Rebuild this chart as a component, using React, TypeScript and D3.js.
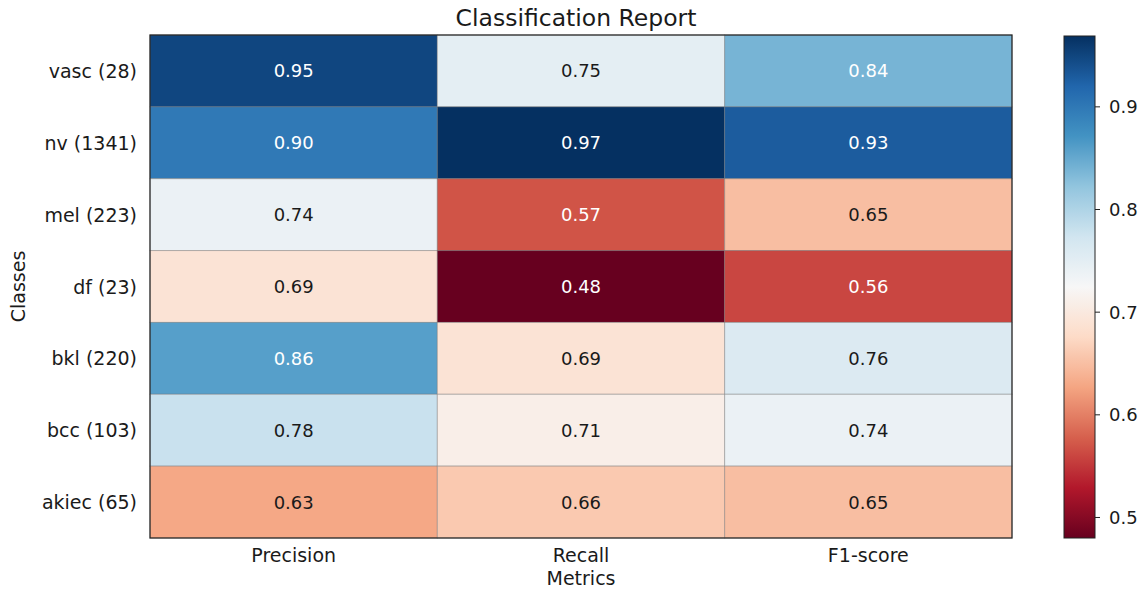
import React from "react";
import * as d3 from "d3";

const classes = ["vasc (28)", "nv (1341)", "mel (223)", "df (23)", "bkl (220)", "bcc (103)", "akiec (65)"];
const metrics = ["Precision", "Recall", "F1-score"];
const precision = [0.95, 0.90, 0.74, 0.69, 0.86, 0.78, 0.63];
const recall = [0.75, 0.97, 0.57, 0.48, 0.69, 0.71, 0.66];
const f1score = [0.84, 0.93, 0.65, 0.56, 0.76, 0.74, 0.65];
const colorbarTicks = [0.5, 0.6, 0.7, 0.8, 0.9];

const rdbu = ["#67001f", "#b2182b", "#d6604d", "#f4a582", "#fddbc7", "#f7f7f7", "#d1e5f0", "#92c5de", "#4393c3", "#2166ac", "#053061"];

const W = 1143, H = 590;
const M = { left: 150, top: 35, right: 1012, bottom: 538 };
const CB = { x: 1064, w: 31 };
const FONT = "'DejaVu Sans', Verdana, sans-serif";

function luminance(c: string) {
  const rgb = d3.rgb(c);
  const f = (v: number) => {
    const s = v / 255;
    return s <= 0.03928 ? s / 12.92 : Math.pow((s + 0.055) / 1.055, 2.4);
  };
  return 0.2126 * f(rgb.r) + 0.7152 * f(rgb.g) + 0.0722 * f(rgb.b);
}

export default function App() {
  const columns = [precision, recall, f1score];
  const all = columns.flat();
  const vmin = d3.min(all)!;
  const vmax = d3.max(all)!;

  const cmap = d3
    .scaleLinear<string>()
    .domain(rdbu.map((_, i) => i / (rdbu.length - 1)))
    .range(rdbu)
    .interpolate(d3.interpolateRgb)
    .clamp(true);
  const norm = d3.scaleLinear().domain([vmin, vmax]).range([0, 1]);
  const color = (v: number) => cmap(norm(v));

  const x = d3.scaleBand<string>().domain(metrics).range([M.left, M.right]);
  const y = d3.scaleBand<string>().domain(classes).range([M.top, M.bottom]);
  const cy = d3.scaleLinear().domain([vmin, vmax]).range([M.bottom, M.top]);

  const stops = d3.range(0, 1.0001, 0.02);

  return (
    <svg width={W} height={H} style={{ position: "absolute", left: 0, top: 0, background: "#fff" }} fontFamily={FONT}>
      <defs>
        <linearGradient id="cbgrad" x1="0" y1="1" x2="0" y2="0">
          {stops.map((t) => (
            <stop key={t} offset={t} stopColor={cmap(t)} />
          ))}
        </linearGradient>
      </defs>
      <text x={576} y={26} textAnchor="middle" fontSize={23.5} fill="#1a1a1a">
        Classification Report
      </text>
      {columns.map((col, ci) =>
        col.map((v, ri) => {
          const c = color(v);
          const tc = luminance(c) < 0.42 ? "#ffffff" : "#1a1a1a";
          const cx = x(metrics[ci])!;
          const ry = y(classes[ri])!;
          return (
            <g key={`${ci}-${ri}`}>
              <rect x={cx} y={ry} width={x.bandwidth()} height={y.bandwidth()} fill={c} stroke="rgba(120,120,120,0.45)" strokeWidth={1} />
              <text x={cx + x.bandwidth() / 2} y={ry + y.bandwidth() / 2} textAnchor="middle" dominantBaseline="central" fontSize={18} fill={tc}>
                {v.toFixed(2)}
              </text>
            </g>
          );
        })
      )}
      <rect x={M.left} y={M.top} width={M.right - M.left} height={M.bottom - M.top} fill="none" stroke="#222" strokeWidth={1.2} />
      {classes.map((c) => (
        <text key={c} x={M.left - 13} y={y(c)! + y.bandwidth() / 2} textAnchor="end" dominantBaseline="central" fontSize={19} fill="#1a1a1a">
          {c}
        </text>
      ))}
      {metrics.map((m) => (
        <text key={m} x={x(m)! + x.bandwidth() / 2} y={562} textAnchor="middle" fontSize={19} fill="#1a1a1a">
          {m}
        </text>
      ))}
      <text x={(M.left + M.right) / 2} y={585} textAnchor="middle" fontSize={19} fill="#1a1a1a">
        Metrics
      </text>
      <text transform={`translate(25,${(M.top + M.bottom) / 2}) rotate(-90)`} textAnchor="middle" fontSize={19} fill="#1a1a1a">
        Classes
      </text>
      <rect x={CB.x} y={M.top + 1} width={CB.w} height={M.bottom - M.top - 1} fill="url(#cbgrad)" stroke="#222" strokeWidth={1} />
      {colorbarTicks.map((t) => (
        <g key={t}>
          <line x1={CB.x + CB.w} x2={CB.x + CB.w + 5} y1={cy(t)} y2={cy(t)} stroke="#222" strokeWidth={1} />
          <text x={CB.x + CB.w + 14} y={cy(t)} dominantBaseline="central" fontSize={18} fill="#1a1a1a">
            {t.toFixed(1)}
          </text>
        </g>
      ))}
    </svg>
  );
}
